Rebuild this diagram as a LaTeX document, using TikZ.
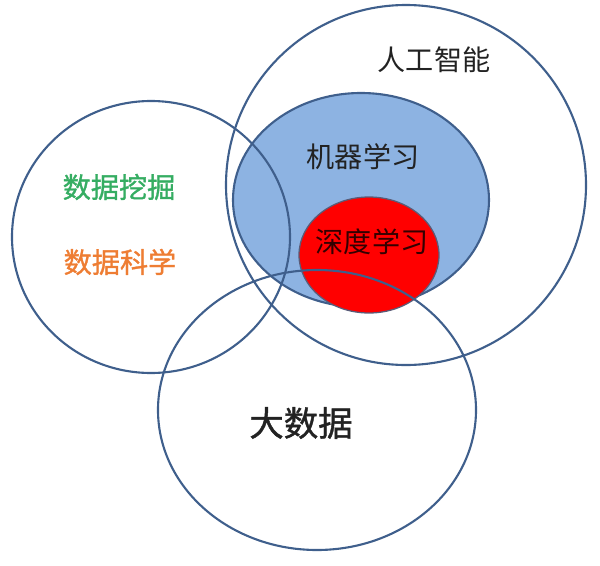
\documentclass[tikz,border=0pt]{standalone}
\usepackage{fontspec}
\setmainfont{Noto Sans CJK SC}
\newfontfamily\midcjk[FakeBold=1.2]{Noto Sans CJK SC}
\usepackage{tikz}
\usetikzlibrary{positioning}
\definecolor{rim}{HTML}{3F5F8C}
\definecolor{mlblue}{HTML}{8DB3E2}
\definecolor{dlrim}{HTML}{5A5C78}
\definecolor{mining}{HTML}{35AD62}
\definecolor{science}{HTML}{EE7D33}
\definecolor{ink}{HTML}{222222}

\begin{document}
\begin{tikzpicture}
		[x=0.025cm,y=-0.025cm,line width=1.5pt,
		every node/.style={text=ink,font=\fontsize{20}{24}\selectfont}]
		\useasboundingbox (0,0) rectangle (600,566);
		\draw[rim] (406,185) ellipse [x radius=180, y radius=180];
		\filldraw[rim,fill=mlblue] (361,200) ellipse [x radius=128, y radius=107];
		\filldraw[dlrim,line width=0.9pt,fill=red] (369,255) ellipse [x radius=70, y radius=58];
		
		\foreach \cx/\cy/\rx/\ry in 
		{151/237/139/136, 317/410/159/140}
		\draw[rim] (\cx,\cy) ellipse [x radius=\rx, y radius=\ry];
		
		\node (ai) at (434,60) {人工智能};
		\node (ml) at (363,157) {机器学习};
		\node[text=black!80!red] (dl) at (372,242) {深度学习};
		\node[text=mining,font=\fontsize{20}{24}\midcjk] (dm) at (119,187) {数据挖掘};
		\node[text=science,font=\fontsize{20}{24}\midcjk] (ds) at (120,262) {数据科学};
		\node[font=\fontsize{24.5}{28}\midcjk] (bd) at (301,423) {大数据};
		\end{tikzpicture}
\end{document}
